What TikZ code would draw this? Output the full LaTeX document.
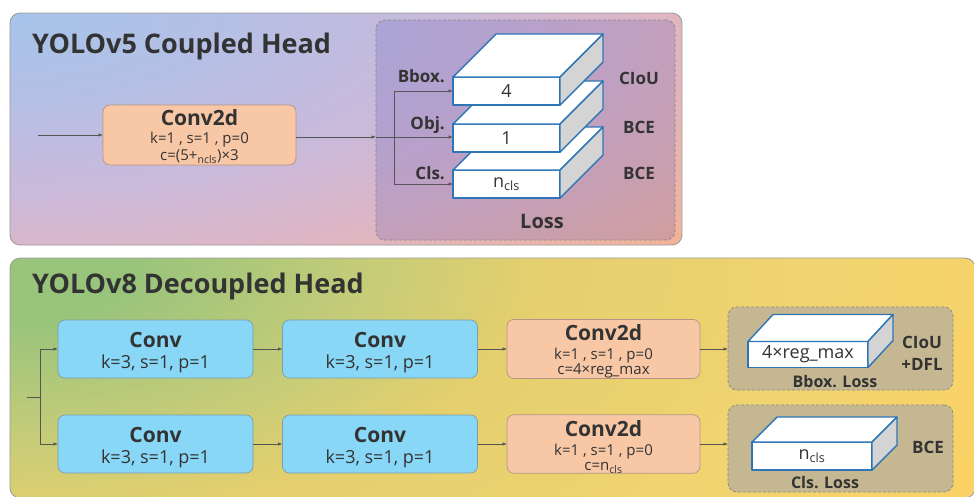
\documentclass[tikz,border=0pt]{standalone}
\usepackage{fontspec}
\setmainfont{Open Sans}
\usetikzlibrary{arrows.meta,calc}
\definecolor{txt}{HTML}{333333}
\definecolor{pborder}{HTML}{9A9A9A}
\definecolor{aA}{HTML}{A6C4EA}
\definecolor{aAB}{HTML}{B6BFE5}
\definecolor{aB}{HTML}{CAB9DA}
\definecolor{aC}{HTML}{DDB6C6}
\definecolor{aD}{HTML}{F3B394}
\definecolor{gA}{HTML}{98C47C}
\definecolor{gB}{HTML}{C6CC78}
\definecolor{gC}{HTML}{E4CF6E}
\definecolor{gD}{HTML}{F0D470}
\definecolor{gE}{HTML}{FAD266}
\definecolor{convblue}{HTML}{88D7F6}
\definecolor{convedge}{HTML}{7C9EAC}
\definecolor{peach}{HTML}{F8C7A6}
\definecolor{peachedge}{HTML}{B49484}
\definecolor{lossv}{HTML}{5048AE}
\definecolor{khaki}{HTML}{C5B792}
\definecolor{dashc}{HTML}{8A8A8A}
\definecolor{slabblue}{HTML}{2E75B6}
\definecolor{slabgray}{HTML}{D4D4D4}
\definecolor{arrc}{HTML}{555555}
\pgfdeclareradialshading{toprad}{\pgfpointorigin}{color(0bp)=(aA); color(90bp)=(aAB); color(180bp)=(aB); color(250bp)=(aC); color(360bp)=(aD); color(420bp)=(aD)}
\pgfdeclareradialshading{botrad}{\pgfpointorigin}{color(0bp)=(gA); color(60bp)=(gA); color(180bp)=(gB); color(260bp)=(gC); color(400bp)=(gD); color(520bp)=(gE); color(560bp)=(gE)}
\newcommand\slabfaces[3]{%
  \draw[slabline, fill=white] (#1.north west) -- ($(#1.north west)+(#2,-#3)$) -- ($(#1.north east)+(#2,-#3)$) -- (#1.north east) -- cycle;
  \draw[slabline, fill=slabgray] (#1.north east) -- ($(#1.north east)+(#2,-#3)$) -- ($(#1.south east)+(#2,-#3)$) -- (#1.south east) -- cycle;
}
\newcommand\fs[2]{\fontsize{#1}{#2}\selectfont}
\begin{document}
\begin{tikzpicture}[x=1pt,y=-1pt,text=txt,
  panel/.style={draw=pborder, line width=0.8pt, rounded corners=10pt, inner sep=0pt, outer sep=0pt},
  boxbase/.style={rounded corners=7pt, line width=0.7pt, inner sep=0pt, outer sep=0pt, align=center},
  convbox/.style={boxbase, draw=convedge, fill=convblue, minimum width=195pt, minimum height=58pt, font=\fs{18}{21}},
  peachbox/.style={boxbase, draw=peachedge, fill=peach, minimum width=193pt, minimum height=58pt, font=\fs{15}{15}},
  lossbox/.style={draw=dashc, dash pattern=on 3pt off 2pt, line width=0.8pt, rounded corners=9pt, inner sep=0pt, outer sep=0pt},
  slabline/.style={draw=slabblue, line width=1.4pt, line join=round},
  slabfront/.style={slabline, fill=white, inner sep=0pt, outer sep=0pt, font=\fs{18}{20}},
  lbl/.style={font=\fs{17}{19}\bfseries},
  arr/.style={draw=arrc, line width=0.7pt, -{Latex[length=4.5pt,width=3.5pt]}},
  ln/.style={draw=arrc, line width=0.7pt}]
\useasboundingbox (0,0) rectangle (974,496);
\clip (0,0) rectangle (974,496);
% panel backgrounds (elliptical gradients from the top-left corner)
\begin{scope}
  \clip[rounded corners=10pt] (10,13) rectangle (682,245);
  \node[inner sep=0pt, outer sep=0pt, xscale=2.5] (g5) at (10,13) {\pgfuseshading{toprad}};
\end{scope}
\begin{scope}
  \clip[rounded corners=10pt] (10,258) rectangle (975,498);
  \node[inner sep=0pt, outer sep=0pt, xscale=2] (g8) at (10,258) {\pgfuseshading{botrad}};
\end{scope}
\node[panel, minimum width=672pt, minimum height=232pt] (p5) at (346,129) {};
\node[panel, minimum width=965pt, minimum height=240pt] (p8) at (492.5,378) {};
\node[anchor=base west, inner sep=0pt, font=\fs{27}{30}\bfseries] (t5) at (32,53) {YOLOv5 Coupled Head};
\node[anchor=base west, inner sep=0pt, font=\fs{27}{30}\bfseries] (t8) at (32,293) {YOLOv8 Decoupled Head};
% ---- top ----
\node[peachbox, minimum height=60pt, font=\fs{15}{17}] (conv5) at (199.5,135) {\rule{0pt}{19.7pt}\fs{21}{17}\bfseries Conv2d\\[1pt]\fs{15}{17}k=1 , s=1 , p=0\\c=(5+\textsubscript{ncls})×3};
\node[lossbox, fill=lossv, fill opacity=0.2, minimum width=299pt, minimum height=220pt] (loss5) at (525.5,130) {};
% slabs (bottom to top)
\node[slabfront, minimum width=107pt, minimum height=28pt] (s3) at (506.5,184) {n\textsubscript{cls}};
\slabfaces{s3}{43}{43}
\node[slabfront, minimum width=107pt, minimum height=28pt] (s2) at (506.5,138) {1};
\slabfaces{s2}{43}{43}
\node[slabfront, minimum width=107pt, minimum height=28pt] (s1) at (506.5,91) {4};
\slabfaces{s1}{43}{43}
\node[lbl, anchor=east, inner sep=0pt] (lb1) at (445,76) {Bbox.};
\node[lbl, anchor=east, inner sep=0pt] (lb2) at (445,125) {Obj.};
\node[lbl, anchor=east, inner sep=0pt] (lb3) at (445,173) {Cls.};
\node[lbl] (r1) at (639,78) {CIoU};
\node[lbl] (r2) at (639,127) {BCE};
\node[lbl] (r3) at (639,173) {BCE};
\node[font=\fs{20}{22}\bfseries] (lossT) at (542,221) {Loss};
\coordinate (in5) at (38,135);
\coordinate (e5) at (376,137);
\coordinate (j5) at (394,137);
\draw[arr] (in5) -- (conv5.west);
\draw[arr] (conv5.east |- e5) -- (e5);
\draw[arr] (e5) -- (s2.west |- e5);
\draw[arr] (j5) |- (s1.west);
\draw[arr] (j5) |- (s3.west);
% ---- bottom ----
\node[convbox] (c1) at (155.5,349) {\rule{0pt}{21.5pt}\fs{21}{21}\bfseries Conv\\\fs{18}{21}k=3, s=1, p=1};
\node[convbox] (c2) at (380,349) {\rule{0pt}{21.5pt}\fs{21}{21}\bfseries Conv\\\fs{18}{21}k=3, s=1, p=1};
\node[peachbox] (d1) at (603.5,349) {\rule{0pt}{21.5pt}\fs{21}{15}\bfseries Conv2d\\[4pt]\fs{15}{15}k=1 , s=1 , p=0\\c=4×reg\_max};
\node[convbox] (c3) at (155.5,444) {\rule{0pt}{21.5pt}\fs{21}{21}\bfseries Conv\\\fs{18}{21}k=3, s=1, p=1};
\node[convbox] (c4) at (380,444) {\rule{0pt}{21.5pt}\fs{21}{21}\bfseries Conv\\\fs{18}{21}k=3, s=1, p=1};
\node[peachbox] (d2) at (603.5,444) {\rule{0pt}{21.5pt}\fs{21}{15}\bfseries Conv2d\\[4pt]\fs{15}{15}k=1 , s=1 , p=0\\c=n\textsubscript{cls}};
\node[lossbox, fill=khaki, minimum width=225pt, minimum height=83pt] (lb) at (840.5,348.5) {};
\node[lossbox, fill=khaki, minimum width=225pt, minimum height=87pt] (lc) at (840.5,448.5) {};
\node[slabfront, minimum width=120pt, minimum height=26pt] (sb) at (808,354.5) {4×reg\_max};
\slabfaces{sb}{25}{27}
\node[slabfront, minimum width=120pt, minimum height=28pt] (sc) at (812,456) {n\textsubscript{cls}};
\slabfaces{sc}{25}{25}
\node[lbl] (rb1) at (922,342) {CIoU};
\node[lbl] (rb2) at (922,364) {+DFL};
\node[lbl] (rb3) at (928,447) {BCE};
\node[font=\fs{16}{18}\bfseries] (bl) at (835,382) {Bbox. Loss};
\node[font=\fs{16}{18}\bfseries] (cl) at (825,483) {Cls. Loss};
\coordinate (in8) at (27,397);
\coordinate (j8) at (40,397);
\draw[ln] (in8) -- (j8);
\draw[arr] (j8) |- (c1.west);
\draw[arr] (j8) |- (c3.west);
\draw[arr] (c1) -- (c2);
\draw[arr] (c2) -- (d1);
\draw[arr] (c3) -- (c4);
\draw[arr] (c4) -- (d2);
\draw[arr] (d1.east) -- (d1.east -| lb.west);
\draw[arr] (d2.east) -- (d2.east -| lc.west);
\end{tikzpicture}
\end{document}
